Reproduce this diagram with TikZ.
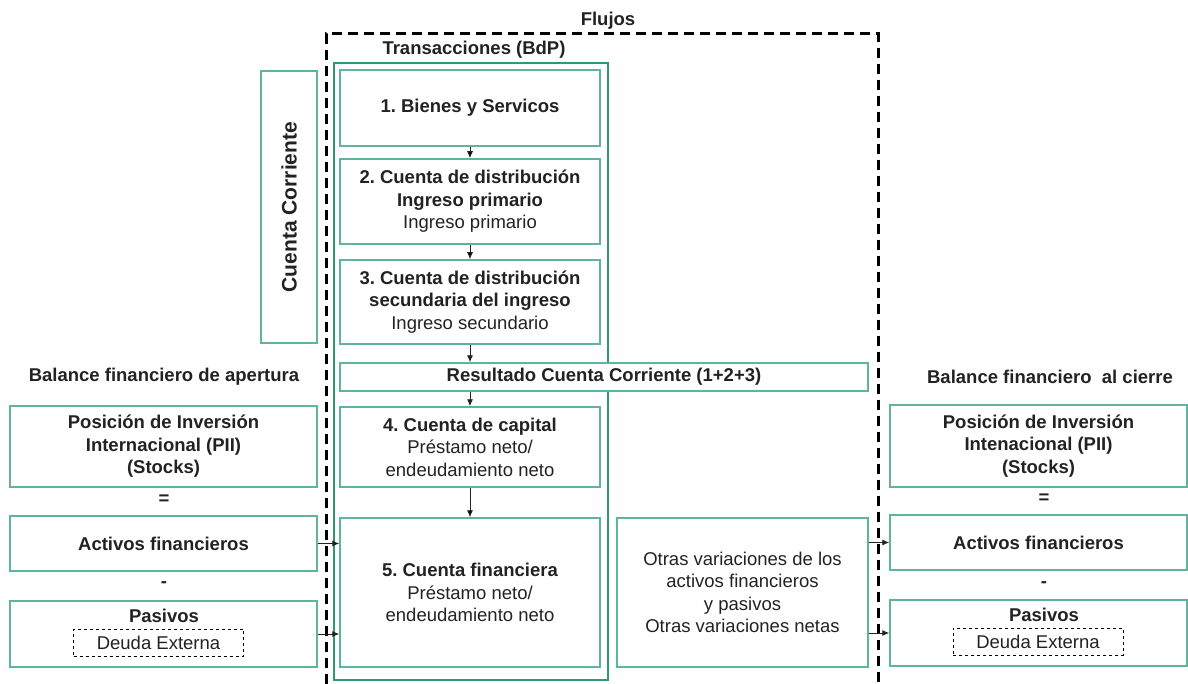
\documentclass[tikz,border=0pt]{standalone}
\usepackage{fontspec}
\setmainfont{Liberation Sans}
\usepackage{tikz}
\usetikzlibrary{arrows.meta,positioning}
\frenchspacing

\definecolor{boxgreen}{RGB}{96,180,154}
\definecolor{outgreen}{RGB}{52,150,120}
\definecolor{txtgray}{RGB}{34,34,34}

\begin{document}
\begin{tikzpicture}[x=1pt, y=-1pt, font=\fontsize{18.5}{22.5}\selectfont, text=txtgray,
	box/.style={draw=boxgreen, fill=white, line width=1.5pt, align=center, inner sep=0pt},
	subbox/.style={draw=black, dashed, line width=0.9pt, inner sep=0pt, minimum width=170pt, minimum height=27pt},
	title/.style={font=\fontsize{18.5}{22.5}\selectfont\bfseries},
	flow/.style={-{Latex[length=7pt,width=6pt]}, draw=txtgray, line width=0.9pt}]
	\useasboundingbox (0,0) rectangle (1188,684);
	% flujos frame
	\draw [line width=3pt, dash pattern=on 10pt off 6pt] (326,684) -- (326,34) -- (878,34) -- (878,684);
	\node [title] (flujos) at (608,21) {Flujos};
	\node [title] (bdptitle) at (474,50) {Transacciones (BdP)};
	\node [draw=outgreen, line width=2pt, minimum width=274pt, minimum height=617pt] (bdp) at (471,371.5) {};
	% transacciones
	\node [box, minimum width=260pt, minimum height=76pt] (goods) at (470,108) {\bfseries 1. Bienes y Servicos};
	\node [box, minimum width=260pt, minimum height=85pt] (primary) at (470,201.5) {\textbf{2. Cuenta de distribución}\\\textbf{Ingreso primario}\\Ingreso primario};
	\node [box, minimum width=260pt, minimum height=84pt] (secondary) at (470,302) {\textbf{3. Cuenta de distribución}\\\textbf{secundaria del ingreso}\\Ingreso secundario};
	\node [box, minimum width=528pt, minimum height=28pt] (result) at (604,377) {\bfseries Resultado Cuenta Corriente (1+2+3)};
	\node [box, minimum width=260pt, minimum height=80pt] (capital) at (470,447) {\textbf{4. Cuenta de capital}\\Préstamo neto/\\endeudamiento neto};
	\node [box, minimum width=260pt, minimum height=149pt] (financial) at (470,592.5) {\textbf{5. Cuenta financiera}\\Préstamo neto/\\endeudamiento neto};
	\node [box, minimum width=56pt, minimum height=272pt] (current) at (289,207) {};
	\node [rotate=90, font=\fontsize{21}{25}\selectfont\bfseries] (currenttxt) at (current.center) {Cuenta Corriente};
	\node [box, minimum width=251pt, minimum height=149pt] (other) at (742.5,592.5) {Otras variaciones de los\\activos financieros\\y pasivos\\Otras variaciones netas};
	% apertura
	\node [title] (opening) at (164,377) {Balance financiero de apertura};
	\node [box, minimum width=307pt, minimum height=81pt] (iipopen) at (163.5,446.5) {\textbf{Posición de Inversión}\\\textbf{Internacional (PII)}\\\textbf{(Stocks)}};
	\node [title] (eqopen) at (164,500) {=};
	\node [box, minimum width=307pt, minimum height=55pt] (assetsopen) at (163.5,543.5) {\bfseries Activos financieros};
	\node [title] (minusopen) at (164,585) {-};
	\node [box, minimum width=307pt, minimum height=66pt] (liabopen) at (163.5,634) {};
	\node [title] (liabopentxt) at (164,616) {Pasivos};
	\node [subbox] (debtopen) at (158.5,642.5) {Deuda Externa};
	% cierre
	\node [title] (closing) at (1050,377) {Balance financiero~ al cierre};
	\node [box, minimum width=297pt, minimum height=82pt] (iipclose) at (1038.5,446) {\textbf{Posición de Inversión}\\\textbf{Intenacional (PII)}\\\textbf{(Stocks)}};
	\node [title] (eqclose) at (1044,499) {=};
	\node [box, minimum width=297pt, minimum height=55pt] (assetsclose) at (1038.5,542.5) {\bfseries Activos financieros};
	\node [title] (minusclose) at (1044,585) {-};
	\node [box, minimum width=297pt, minimum height=66pt] (liabclose) at (1038.5,633) {};
	\node [title] (liabclosetxt) at (1044,615) {Pasivos};
	\node [subbox] (debtclose) at (1038,641.5) {Deuda Externa};
	% flechas
	\path [flow] (goods) edge (primary);
	\path [flow] (primary) edge (secondary);
	\draw [flow] (secondary.south) -- (secondary.south |- result.north);
	\draw [flow] (capital.north |- result.south) -- (capital.north);
	\path [flow] (capital) edge (financial);
	\draw [flow] (assetsopen.east) -- (assetsopen.east -| financial.west);
	\draw [flow] (liabopen.east) -- (liabopen.east -| financial.west);
	\draw [flow] (assetsclose.west -| other.east) -- (assetsclose.west);
	\draw [flow] (liabclose.west -| other.east) -- (liabclose.west);
\end{tikzpicture}
\end{document}
